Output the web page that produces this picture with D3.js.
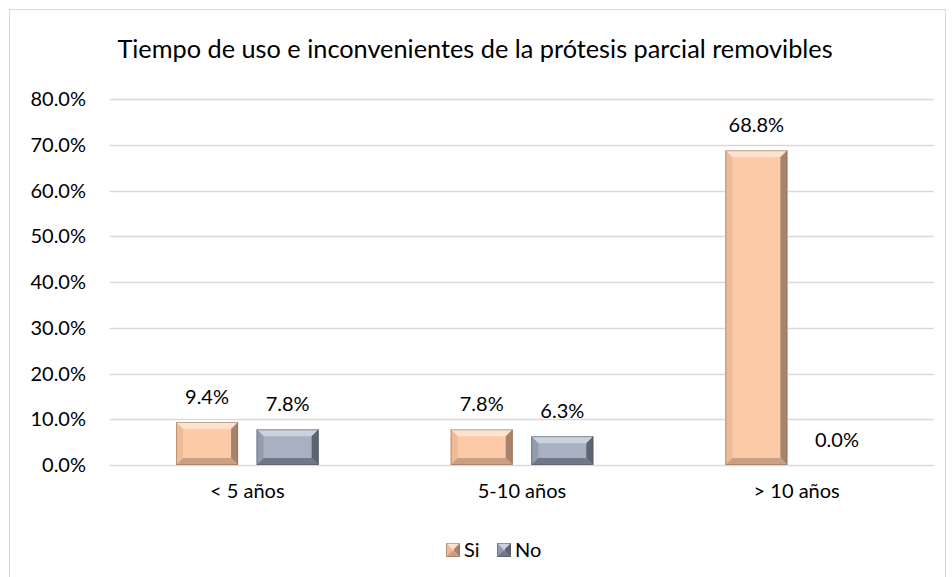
<!DOCTYPE html>
<html>
<head>
<meta charset="utf-8">
<script src="https://cdn.jsdelivr.net/npm/d3@7"></script>
<style>
  body { margin: 0; background: #fff; }
  svg { font-family: Lato, "Noto Sans", sans-serif; }
</style>
</head>
<body>
<svg width="952" height="577"></svg>
<script>
var categories = ["< 5 años", "5-10 años", "> 10 años"];
var seriesNames = ["Si", "No"];
var siValues = [0.094, 0.078, 0.688];
var noValues = [0.078, 0.063, 0.0];
var yTicks = [0, 0.1, 0.2, 0.3, 0.4, 0.5, 0.6, 0.7, 0.8];

var svg = d3.select("svg"),
    margin = {top: 99, right: 18, bottom: 112, left: 110},
    width = +svg.attr("width") - margin.left - margin.right,
    height = +svg.attr("height") - margin.top - margin.bottom;

// chart border
svg.append("rect")
    .attr("x", 9.5).attr("y", 9.5)
    .attr("width", 936).attr("height", 580)
    .attr("fill", "none")
    .attr("stroke", "#d9d9d9");

var g = svg.append("g").attr("transform", "translate(" + margin.left + "," + margin.top + ")");

var x0 = d3.scaleBand().domain(categories).range([0, width]);
var x1 = d3.scaleBand().domain(seriesNames).range([66, x0.bandwidth() - 66]).paddingInner(0.23);
var y = d3.scaleLinear().domain([0, 0.8]).range([height, 0]);

var colors = {
  Si: {mid: "#fccaa7", top: "#fde2d0", left: "#eebb98", right: "#a5836d", bottom: "#c9a083", edge: "#8a6a55"},
  No: {mid: "#a7b1c2", top: "#cbd2de", left: "#939cad", right: "#5d6470", bottom: "#707887", edge: "#4d535e"}
};

svg.append("text")
    .attr("x", 475).attr("y", 58)
    .attr("text-anchor", "middle")
    .style("font-size", "25.3px")
    .attr("fill", "#000")
    .text("Tiempo de uso e inconvenientes de la prótesis parcial removibles");

// gridlines
g.append("g")
  .selectAll("line")
  .data(yTicks)
  .enter().append("line")
    .attr("x1", 0).attr("x2", width)
    .attr("y1", function(d) { return Math.round(y(d)) + 0.5; })
    .attr("y2", function(d) { return Math.round(y(d)) + 0.5; })
    .attr("stroke", "#d9d9d9")
    .attr("stroke-width", 1.5);

// y axis labels
g.append("g")
  .selectAll("text")
  .data(yTicks)
  .enter().append("text")
    .attr("x", -24)
    .attr("y", function(d) { return y(d); })
    .attr("dy", "0.35em")
    .attr("text-anchor", "end")
    .style("font-size", "20px")
    .text(function(d) { return d3.format(".1%")(d); });

// x axis labels
g.append("g")
  .selectAll("text")
  .data(categories)
  .enter().append("text")
    .attr("x", function(d) { return x0(d) + x0.bandwidth() / 2; })
    .attr("y", height + 33)
    .attr("text-anchor", "middle")
    .style("font-size", "20px")
    .text(function(d) { return d; });

var data = categories.map(function(c, i) {
  return {cat: c, values: [{key: "Si", value: siValues[i]}, {key: "No", value: noValues[i]}]};
});

function bevelBar(sel, x, yy, w, h, c, b) {
  if (h <= 0) return;
  b = Math.min(b, h / 2, w / 2);
  sel.append("rect").attr("x", x).attr("y", yy).attr("width", w).attr("height", h).attr("fill", c.mid);
  // top
  sel.append("polygon").attr("points", [[x, yy], [x + w, yy], [x + w - b, yy + b], [x + b, yy + b]].join(" ")).attr("fill", c.top);
  // left
  sel.append("polygon").attr("points", [[x, yy], [x + b, yy + b], [x + b, yy + h - b], [x, yy + h]].join(" ")).attr("fill", c.left);
  // right
  sel.append("polygon").attr("points", [[x + w, yy], [x + w, yy + h], [x + w - b, yy + h - b], [x + w - b, yy + b]].join(" ")).attr("fill", c.right);
  // bottom
  sel.append("polygon").attr("points", [[x, yy + h], [x + b, yy + h - b], [x + w - b, yy + h - b], [x + w, yy + h]].join(" ")).attr("fill", c.bottom);
  sel.append("rect").attr("x", x + 0.5).attr("y", yy + 0.5).attr("width", w - 1).attr("height", h - 1)
    .attr("fill", "none").attr("stroke", c.edge).attr("stroke-opacity", 0.5);
}

var groups = g.append("g")
  .selectAll("g")
  .data(data)
  .enter().append("g")
    .attr("transform", function(d) { return "translate(" + x0(d.cat) + ",0)"; });

groups.each(function(d) {
  var gg = d3.select(this);
  d.values.forEach(function(v) {
    bevelBar(gg, x1(v.key), y(v.value), x1.bandwidth(), y(0) - y(v.value), colors[v.key], 7);
    gg.append("text")
      .attr("x", x1(v.key) + x1.bandwidth() / 2)
      .attr("y", y(v.value) - 18)
      .attr("text-anchor", "middle")
      .style("font-size", "20px")
      .text(d3.format(".1%")(v.value));
  });
});

// legend
var legend = svg.append("g").attr("transform", "translate(446,543)");
var lx = [0, 51];
seriesNames.forEach(function(s, i) {
  var lg = legend.append("g").attr("transform", "translate(" + lx[i] + ",0)");
  bevelBar(lg, 0, 0, 14, 14, colors[s], 6);
  lg.append("text").attr("x", 18).attr("y", 14)
    .style("font-size", "20px").text(s);
});
</script>
</body>
</html>
